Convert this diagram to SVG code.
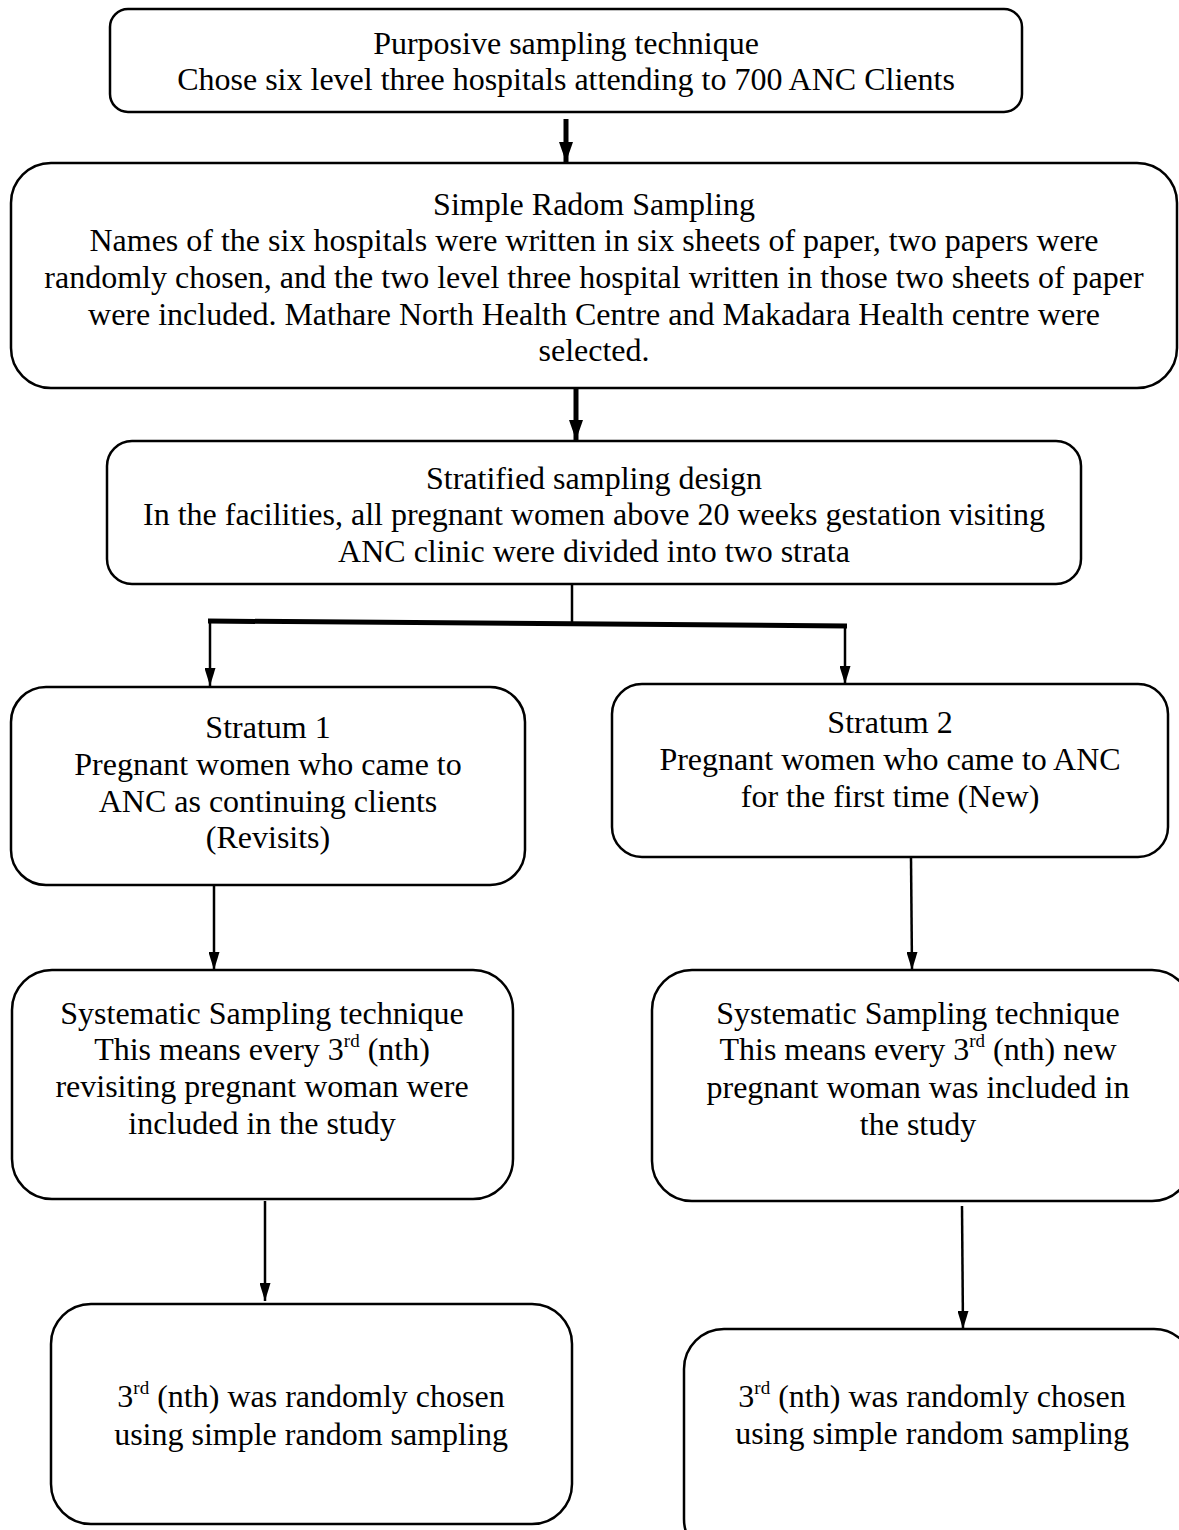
<svg xmlns="http://www.w3.org/2000/svg" width="1179" height="1530" viewBox="0 0 1179 1530">
<style>
.box{fill:#fff;stroke:#000;stroke-width:2.5}
.t{font-family:"Liberation Serif","Times New Roman",serif;font-size:32px;fill:#000;text-anchor:middle}
.sup{font-size:19px}
.c{stroke:#000;stroke-width:2.5;fill:none}
.ct{stroke:#000;stroke-width:5;fill:none}
</style>
<defs>
<marker id="ahd" viewBox="0 0 14 20" markerWidth="14" markerHeight="20" refX="7" refY="20" markerUnits="userSpaceOnUse" orient="0">
<path d="M0,0 L14,0 L7,20 Z" fill="#000"/>
</marker>
<marker id="ahs" viewBox="0 0 11 18" markerWidth="11" markerHeight="18" refX="5.5" refY="18" markerUnits="userSpaceOnUse" orient="0">
<path d="M0,0 L11,0 L5.5,18 Z" fill="#000"/>
</marker>
</defs>
<rect width="1179" height="1530" fill="#fff"/>
<g id="connectors">
<line class="ct" x1="566" y1="119" x2="566" y2="162" marker-end="url(#ahd)"/>
<line class="ct" x1="576" y1="389" x2="576" y2="440" marker-end="url(#ahd)"/>
<line class="c" x1="572" y1="585" x2="572" y2="623"/>
<line class="ct" x1="208" y1="621" x2="847" y2="626"/>
<line class="c" x1="210" y1="621" x2="210" y2="686" marker-end="url(#ahs)"/>
<line class="c" x1="845" y1="626" x2="845" y2="684" marker-end="url(#ahs)"/>
<line class="c" x1="214" y1="886" x2="214" y2="970" marker-end="url(#ahs)"/>
<line class="c" x1="911" y1="858" x2="912" y2="970" marker-end="url(#ahs)"/>
<line class="c" x1="265" y1="1201" x2="265" y2="1301" marker-end="url(#ahs)"/>
<line class="c" x1="962" y1="1206" x2="963" y2="1329" marker-end="url(#ahs)"/>
</g>
<g id="n1">
<rect class="box" x="110" y="9" width="912" height="103" rx="18"/>
<text class="t" x="566" y="54">Purposive sampling technique</text>
<text class="t" x="566" y="90">Chose six level three hospitals attending to 700 ANC Clients</text>
</g>
<g id="n2">
<rect class="box" x="11" y="163" width="1166" height="225" rx="40"/>
<text class="t" x="594" y="215">Simple Radom Sampling</text>
<text class="t" x="594" y="251">Names of the six hospitals were written in six sheets of paper, two papers were</text>
<text class="t" x="594" y="288">randomly chosen, and the two level three hospital written in those two sheets of paper</text>
<text class="t" x="594" y="325">were included. Mathare North Health Centre and Makadara Health centre were</text>
<text class="t" x="594" y="361">selected.</text>
</g>
<g id="n3">
<rect class="box" x="107" y="441" width="974" height="143" rx="25"/>
<text class="t" x="594" y="489">Stratified sampling design</text>
<text class="t" x="594" y="525">In the facilities, all pregnant women above 20 weeks gestation visiting</text>
<text class="t" x="594" y="562">ANC clinic were divided into two strata</text>
</g>
<g id="n4">
<rect class="box" x="11" y="687" width="514" height="198" rx="35"/>
<text class="t" x="268" y="738">Stratum 1</text>
<text class="t" x="268" y="775">Pregnant women who came to</text>
<text class="t" x="268" y="812">ANC as continuing clients</text>
<text class="t" x="268" y="848">(Revisits)</text>
</g>
<g id="n5">
<rect class="box" x="612" y="684" width="556" height="173" rx="30"/>
<text class="t" x="890" y="733">Stratum 2</text>
<text class="t" x="890" y="770">Pregnant women who came to ANC</text>
<text class="t" x="890" y="807">for the first time (New)</text>
</g>
<g id="n6">
<rect class="box" x="12" y="970" width="501" height="229" rx="40"/>
<text class="t" x="262" y="1024">Systematic Sampling technique</text>
<text class="t" x="262" y="1060">This means every 3<tspan class="sup" dy="-13">rd</tspan><tspan dy="13"> (nth)</tspan></text>
<text class="t" x="262" y="1097">revisiting pregnant woman were</text>
<text class="t" x="262" y="1134">included in the study</text>
</g>
<g id="n7">
<rect class="box" x="652" y="970" width="540" height="231" rx="40"/>
<text class="t" x="918" y="1024">Systematic Sampling technique</text>
<text class="t" x="918" y="1060">This means every 3<tspan class="sup" dy="-13">rd</tspan><tspan dy="13"> (nth) new</tspan></text>
<text class="t" x="918" y="1098">pregnant woman was included in</text>
<text class="t" x="918" y="1135">the study</text>
</g>
<g id="n8">
<rect class="box" x="51" y="1304" width="521" height="220" rx="40"/>
<text class="t" x="311" y="1407">3<tspan class="sup" dy="-13">rd</tspan><tspan dy="13"> (nth) was randomly chosen</tspan></text>
<text class="t" x="311" y="1445">using simple random sampling</text>
</g>
<g id="n9">
<rect class="box" x="684" y="1329" width="510" height="230" rx="40"/>
<text class="t" x="932" y="1407">3<tspan class="sup" dy="-13">rd</tspan><tspan dy="13"> (nth) was randomly chosen</tspan></text>
<text class="t" x="932" y="1444">using simple random sampling</text>
</g>
</svg>
